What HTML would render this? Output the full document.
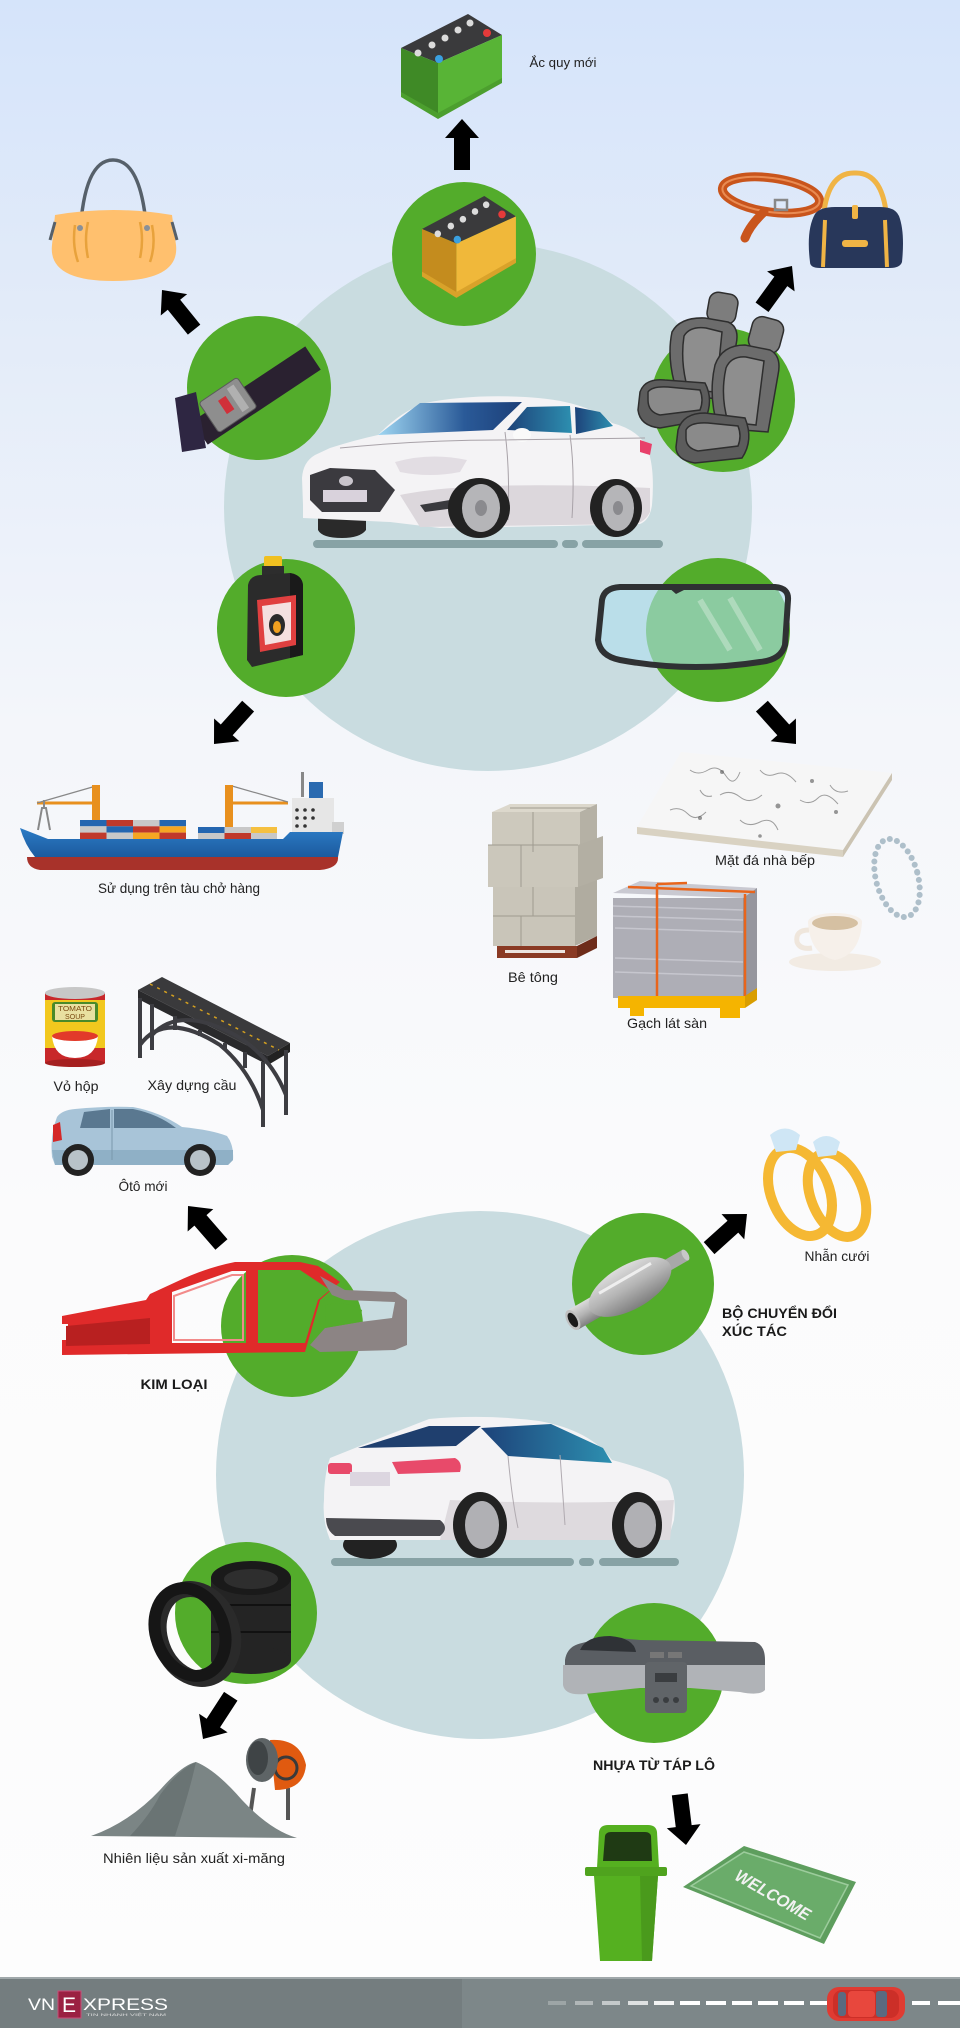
<!DOCTYPE html>
<html><head><meta charset="utf-8"><style>
html,body{margin:0;padding:0;width:960px;height:2028px;overflow:hidden;background:#fff}
svg{display:block}
text{font-family:"Liberation Sans","Noto Sans CJK SC",sans-serif;fill:#222;font-size:14px}
.b{font-weight:bold;fill:#1a1a1a}
</style></head><body>
<svg width="960" height="2028" viewBox="0 0 960 2028" xmlns="http://www.w3.org/2000/svg">
<defs>
<linearGradient id="bg" x1="0" y1="0" x2="0" y2="1">
<stop offset="0" stop-color="#d5e4fa"/>
<stop offset="0.15" stop-color="#e2ebf9"/>
<stop offset="0.36" stop-color="#f4f6fa"/>
<stop offset="0.6" stop-color="#fbfbfc"/>
<stop offset="1" stop-color="#fdfdfd"/>
</linearGradient>
<linearGradient id="wsh" x1="0" y1="0" x2="1" y2="0">
<stop offset="0" stop-color="#9fd6f2"/><stop offset="0.6" stop-color="#2a5a98"/><stop offset="1" stop-color="#1c3f78"/>
</linearGradient>
<linearGradient id="sidew" x1="0" y1="0" x2="1" y2="0">
<stop offset="0" stop-color="#1d4279"/><stop offset="1" stop-color="#2d8fb0"/>
</linearGradient>
<linearGradient id="hull" x1="0" y1="0" x2="0" y2="1">
<stop offset="0" stop-color="#2c7cc6"/><stop offset="1" stop-color="#1c5a9e"/>
</linearGradient>
<linearGradient id="conv" x1="0" y1="0" x2="0" y2="1">
<stop offset="0" stop-color="#dcdcdc"/><stop offset="0.5" stop-color="#b4b4b4"/><stop offset="1" stop-color="#7e7e7e"/>
</linearGradient>
<path id="arr" d="M0,0 L17,19 L8,19 L8,51 L-8,51 L-8,19 L-17,19 Z" fill="#000"/>
</defs>

<rect x="0" y="0" width="960" height="2028" fill="url(#bg)"/>

<!-- big circles -->
<circle cx="488" cy="507" r="264" fill="#c9dce0"/>
<circle cx="480" cy="1475" r="264" fill="#c9dce0"/>

<!-- green circles -->
<g fill="#53ac2b">
<circle cx="464" cy="254" r="72"/>
<circle cx="259" cy="388" r="72"/>
<circle cx="723" cy="400" r="72"/>
<circle cx="286" cy="628" r="69"/>
<circle cx="718" cy="630" r="72"/>
<circle cx="292" cy="1326" r="71"/>
<circle cx="643" cy="1284" r="71"/>
<circle cx="246" cy="1613" r="71"/>
<circle cx="654" cy="1673" r="70"/>
</g>

<!-- arrows -->
<use href="#arr" transform="translate(462,119)"/>
<use href="#arr" transform="translate(162,290) rotate(-39)"/>
<use href="#arr" transform="translate(792,266) rotate(36)"/>
<use href="#arr" transform="translate(214,744) rotate(-138)"/>
<use href="#arr" transform="translate(796,744) rotate(138)"/>
<use href="#arr" transform="translate(188,1206) rotate(-41)"/>
<use href="#arr" transform="translate(747,1214) rotate(48)"/>
<use href="#arr" transform="translate(203,1739) rotate(-147)"/>
<use href="#arr" transform="translate(686,1845) rotate(173)"/>

<!-- new green battery -->
<g transform="translate(401,14)">
<polygon points="0,34 67,0 101,21 37,49" fill="#3a3a3c"/>
<polygon points="0,34 37,49 37,104 0,81" fill="#3f8a26"/>
<polygon points="37,49 101,21 101,68 37,104" fill="#58b436"/>
<polygon points="0,78 37,99 101,64 101,69 37,105 0,83" fill="#4c9f2e"/>
<g fill="#dcdcdc"><circle cx="17" cy="39" r="3.5"/><circle cx="31" cy="31" r="3.5"/><circle cx="44" cy="24" r="3.5"/><circle cx="57" cy="16" r="3.5"/><circle cx="69" cy="9" r="3.5"/></g>
<circle cx="86" cy="19" r="4" fill="#e53a3a"/><circle cx="38" cy="45" r="4" fill="#3aa0e0"/>
</g>
<text x="563" y="67" text-anchor="middle" textLength="67" lengthAdjust="spacingAndGlyphs" style="font-size:13px">Ắc quy mới</text>

<!-- yellow battery -->
<g transform="translate(422,196) scale(0.93,0.97)">
<polygon points="0,34 67,0 101,21 37,49" fill="#3a3a3c"/>
<polygon points="0,34 37,49 37,104 0,81" fill="#c48c1e"/>
<polygon points="37,49 101,21 101,68 37,104" fill="#f0b83a"/>
<polygon points="0,78 37,99 101,64 101,69 37,105 0,83" fill="#d9a22a"/>
<g fill="#dcdcdc"><circle cx="17" cy="39" r="3.5"/><circle cx="31" cy="31" r="3.5"/><circle cx="44" cy="24" r="3.5"/><circle cx="57" cy="16" r="3.5"/><circle cx="69" cy="9" r="3.5"/></g>
<circle cx="86" cy="19" r="4" fill="#e53a3a"/><circle cx="38" cy="45" r="4" fill="#3aa0e0"/>
</g>

<!-- orange handbag -->
<g>
<path d="M80,235 Q84,160 113,160 Q142,160 147,235" stroke="#56606a" stroke-width="3.5" fill="none"/>
<path d="M55,215 Q113,205 172,215 L176,245 Q180,281 113,281 Q48,281 52,245 Z" fill="#ffc06e"/>
<path d="M75,225 Q72,245 78,262 M88,222 Q84,240 88,258 M140,222 Q144,240 140,258 M152,225 Q156,245 150,262" stroke="#e8a23c" stroke-width="2.5" fill="none"/>
<path d="M55,222 L50,240 M172,222 L177,240" stroke="#56606a" stroke-width="3"/>
<circle cx="80" cy="228" r="3" fill="#8a9098"/><circle cx="147" cy="228" r="3" fill="#8a9098"/>
</g>

<!-- seat belt -->
<g>
<line x1="200" y1="433" x2="313" y2="358" stroke="#2a2130" stroke-width="28"/>
<polygon points="175,398 196,392 206,448 182,452" fill="#2e2642"/>
<g transform="translate(228,405) rotate(-34)">
<rect x="-23" y="-18" width="46" height="36" rx="3" fill="#8e8e8e" stroke="#5a5a5a"/>
<rect x="-6" y="-9" width="9" height="16" fill="#d0303a"/>
<rect x="8" y="-14" width="8" height="28" fill="#b0b0b0"/>
</g>
</g>

<!-- seats -->
<g stroke="#2e2e2e" stroke-width="1.5">
<rect x="708" y="293" width="29" height="30" rx="9" fill="#7d7d7d" transform="rotate(10 722 308)"/>
<path d="M672,332 Q680,317 705,318 L728,322 Q740,327 736,345 L730,400 L678,395 Q666,360 672,332 Z" fill="#6c6c6c"/>
<path d="M684,336 Q690,326 706,328 L722,332 L716,392 L688,390 Q680,362 684,336 Z" fill="#8e8e8e"/>
<path d="M640,392 Q645,378 665,380 L705,383 Q714,400 705,420 L660,428 Q640,426 638,410 Z" fill="#5c5c5c"/>
<path d="M648,392 Q652,386 668,387 L700,390 Q704,400 700,410 L660,415 Q648,412 648,400 Z" fill="#8a8a8a"/>
<rect x="750" y="318" width="32" height="34" rx="10" fill="#7d7d7d" transform="rotate(15 766 335)"/>
<path d="M715,365 Q722,345 745,345 L770,350 Q782,356 778,375 L768,432 L718,428 Q708,395 715,365 Z" fill="#6c6c6c"/>
<path d="M726,368 Q731,356 746,357 L764,361 L756,425 L728,422 Q720,395 726,368 Z" fill="#8e8e8e"/>
<path d="M678,430 Q683,413 705,413 L745,418 Q754,440 742,458 L695,463 Q676,460 676,447 Z" fill="#5c5c5c"/>
<path d="M686,430 Q690,422 708,423 L738,426 Q742,436 738,446 L698,451 Q686,448 686,438 Z" fill="#8a8a8a"/>
</g>

<!-- belt + navy bag -->
<g>
<ellipse cx="771" cy="195" rx="49" ry="17" transform="rotate(8 771 195)" stroke="#c9551c" stroke-width="9" fill="none"/>
<ellipse cx="771" cy="195" rx="49" ry="17" transform="rotate(8 771 195)" stroke="#e98b52" stroke-width="2" fill="none"/>
<path d="M764,212 Q750,225 745,238" stroke="#c9551c" stroke-width="9" stroke-linecap="round" fill="none"/>
<rect x="775" y="200" width="12" height="10" fill="none" stroke="#888" stroke-width="2.5"/>
<path d="M823,222 Q826,172 855,173 Q884,172 887,222" stroke="#f0b445" stroke-width="5" fill="none"/>
<path d="M810,262 Q806,230 815,214 Q820,207 835,207 L880,207 Q895,207 899,216 Q905,232 902,262 Q900,268 890,268 L820,268 Q810,268 810,262 Z" fill="#28375a"/>
<line x1="825" y1="220" x2="823" y2="267" stroke="#f0b445" stroke-width="4"/>
<line x1="885" y1="220" x2="887" y2="267" stroke="#f0b445" stroke-width="4"/>
<rect x="852" y="205" width="6" height="14" rx="2" fill="#f0b445"/>
<rect x="842" y="240" width="26" height="7" rx="3" fill="#f0b445"/>
</g>

<!-- front car -->
<g>
<rect x="313" y="540" width="245" height="8" rx="4" fill="#87a2a5"/>
<rect x="562" y="540" width="16" height="8" rx="4" fill="#87a2a5"/>
<rect x="582" y="540" width="81" height="8" rx="4" fill="#87a2a5"/>
<path d="M318,512 L366,512 L366,530 Q360,538 342,538 Q322,538 318,530 Z" fill="#2a2a2a"/>
<path d="M303,505 L302,478 Q303,462 315,455 L330,448 Q355,440 378,435 Q400,412 425,403 Q470,394 525,397 Q585,400 612,423 Q640,430 648,450 Q655,470 652,505 Q650,520 640,524 L560,526 L440,528 L390,522 L303,518 Z" fill="#f4f3f5"/>
<path d="M400,495 Q470,480 650,488 L650,512 Q645,522 635,524 L420,527 Z" fill="#dcd7dc"/>
<polygon points="378,435 420,403 522,402 493,430" fill="url(#wsh)"/>
<polygon points="507,430 527,407 570,406 572,433" fill="url(#sidew)"/>
<polygon points="575,407 600,412 613,426 576,434" fill="url(#sidew)"/>
<ellipse cx="522" cy="435" rx="9" ry="7" fill="#fafafa"/>
<path d="M310,475 L330,468 L375,470 L395,490 L380,512 L322,512 L310,500 Z" fill="#3b3a3f"/>
<rect x="323" y="490" width="44" height="12" fill="#d9d2dc"/>
<ellipse cx="346" cy="481" rx="7" ry="5" fill="#c9c5cc"/>
<path d="M395,462 Q430,452 467,460 L460,472 Q430,478 400,472 Z" fill="#e2dde3"/>
<path d="M420,505 L450,500 L455,508 L425,512 Z" fill="#3a3a3e"/>
<path d="M505,432 Q510,470 508,520 M570,435 Q575,470 572,518 M340,448 Q420,440 500,440 L645,438" stroke="#a8a2a8" stroke-width="1" fill="none"/>
<path d="M640,440 L652,444 L650,455 L640,452 Z" fill="#e8406a"/>
<ellipse cx="479" cy="508" rx="31" ry="30" fill="#222"/>
<ellipse cx="481" cy="508" rx="19" ry="24" fill="#b5b5b8"/>
<ellipse cx="481" cy="508" rx="6" ry="8" fill="#8a8a8e"/>
<ellipse cx="616" cy="508" rx="26" ry="29" fill="#222"/>
<ellipse cx="618" cy="508" rx="16" ry="23" fill="#b5b5b8"/>
<ellipse cx="618" cy="508" rx="5" ry="7" fill="#8a8a8e"/>
</g>

<!-- oil bottle -->
<g>
<rect x="264" y="556" width="18" height="12" rx="2" fill="#f0c020"/>
<rect x="262" y="566" width="22" height="10" fill="#2d2d2d"/>
<path d="M248,585 Q250,575 262,575 L290,573 Q302,575 303,585 L303,655 L252,667 L247,660 Z" fill="#2b2b2b"/>
<path d="M290,573 Q302,575 303,585 L303,655 L290,658 Z" fill="#1a1a1a"/>
<polygon points="257,600 296,595 296,645 260,652" fill="#e04040"/>
<polygon points="262,606 291,602 291,640 265,645" fill="#f4e0e0"/>
<ellipse cx="277" cy="625" rx="8" ry="11" fill="#2b2b2b"/>
<ellipse cx="277" cy="627" rx="4" ry="6" fill="#f0a020"/>
</g>

<!-- windshield -->
<path d="M602,600 Q604,588 620,587 L775,587 Q789,588 788,600 L785,645 Q781,660 760,662 Q690,673 620,660 Q600,656 598,640 Z" fill="#b0e0ee" fill-opacity="0.6" stroke="#2f3133" stroke-width="6"/>
<path d="M668,587 L676,594 L690,587 Z" fill="#2f3133"/>
<path d="M700,600 L730,650 M730,598 L760,650" stroke="#ffffff" stroke-opacity="0.3" stroke-width="6"/>

<!-- ship -->
<g>
<path d="M37,803 L98,803 M232,803 L288,803" stroke="#e8901e" stroke-width="3"/>
<path d="M37,803 L96,786 M232,786 L288,802" stroke="#888" stroke-width="1.2"/>
<rect x="92" y="785" width="8" height="36" fill="#e8901e"/>
<rect x="225" y="785" width="8" height="43" fill="#e8901e"/>
<path d="M38,830 L42,808 L46,808 L50,830 M44,808 L44,800" stroke="#888" stroke-width="2" fill="none"/>
<rect x="301" y="772" width="3" height="25" fill="#888"/>
<rect x="309" y="782" width="14" height="18" fill="#2a6ab0"/>
<rect x="292" y="798" width="42" height="36" fill="#e6e6e6"/>
<rect x="332" y="822" width="12" height="12" fill="#d0d0d0"/>
<g fill="#333"><circle cx="297" cy="810" r="1.8"/><circle cx="305" cy="810" r="1.8"/><circle cx="313" cy="810" r="1.8"/><circle cx="297" cy="818" r="1.8"/><circle cx="305" cy="818" r="1.8"/><circle cx="313" cy="818" r="1.8"/><circle cx="297" cy="826" r="1.8"/><circle cx="305" cy="826" r="1.8"/></g>
<g>
<rect x="80" y="820" width="26.5" height="6.3" fill="#2466b0"/><rect x="106.5" y="820" width="26.5" height="6.3" fill="#c0392b"/><rect x="133" y="820" width="26.5" height="6.3" fill="#c8c8c8"/><rect x="159.5" y="820" width="26.5" height="6.3" fill="#2466b0"/>
<rect x="80" y="826.3" width="26.5" height="6.3" fill="#c8c8c8"/><rect x="106.5" y="826.3" width="26.5" height="6.3" fill="#2466b0"/><rect x="133" y="826.3" width="26.5" height="6.3" fill="#c0392b"/><rect x="159.5" y="826.3" width="26.5" height="6.3" fill="#f5a623"/>
<rect x="80" y="832.6" width="26.5" height="6.4" fill="#c0392b"/><rect x="106.5" y="832.6" width="26.5" height="6.4" fill="#c8c8c8"/><rect x="133" y="832.6" width="26.5" height="6.4" fill="#f5a623"/><rect x="159.5" y="832.6" width="26.5" height="6.4" fill="#c0392b"/>
<rect x="198" y="827" width="26.5" height="6" fill="#2466b0"/><rect x="224.5" y="827" width="26.5" height="6" fill="#c8c8c8"/><rect x="251" y="827" width="26" height="6" fill="#f5c040"/>
<rect x="198" y="833" width="26.5" height="6" fill="#c8c8c8"/><rect x="224.5" y="833" width="26.5" height="6" fill="#c0392b"/><rect x="251" y="833" width="26" height="6" fill="#c8c8c8"/>
</g>
<path d="M20,828 L48,839 L283,839 L290,832 L343,832 L338,857 L35,857 Q25,845 20,828 Z" fill="url(#hull)"/>
<path d="M27,857 L338,857 Q339,868 320,870 L40,870 Q27,868 27,857 Z" fill="#a8322a"/>
</g>
<text x="179" y="893" text-anchor="middle" textLength="162" lengthAdjust="spacingAndGlyphs">Sử dụng trên tàu chở hàng</text>

<!-- marble -->
<g>
<polygon points="637,827 681,752 892,773 843,850" fill="#f6f6f6"/>
<polygon points="637,827 843,850 843,857 637,834" fill="#d9d2c2"/>
<polygon points="843,850 892,773 892,780 843,857" fill="#cbc3b2"/>
<g stroke="#7a7a7a" stroke-width="1" fill="none" opacity="0.7">
<path d="M690,770 q8,6 18,0 t18,6 t14,-4"/><path d="M720,795 q10,-6 20,2 t22,-2"/><path d="M760,770 q6,8 16,4 t20,8"/><path d="M800,800 q10,6 18,-2 t20,6"/><path d="M670,810 q10,-4 18,4 t18,-2"/><path d="M740,820 q8,8 20,2 t18,8"/><path d="M830,785 q6,10 18,6"/><path d="M700,790 q4,8 12,6"/>
</g>
<g fill="#555" opacity="0.6"><circle cx="722" cy="772" r="2"/><circle cx="778" cy="806" r="2.5"/><circle cx="812" cy="781" r="2"/><circle cx="700" cy="818" r="2"/><circle cx="760" cy="836" r="1.8"/><circle cx="836" cy="812" r="2"/></g>
</g>
<text x="765" y="865" text-anchor="middle" textLength="100" lengthAdjust="spacingAndGlyphs">Mặt đá nhà bếp</text>

<!-- concrete blocks -->
<g>
<polygon points="492,812 510,804 597,804 580,812" fill="#dcd8cc"/>
<rect x="492" y="812" width="88" height="40" fill="#cdc9bd"/>
<polygon points="580,812 597,804 597,845 580,852" fill="#b5b1a5"/>
<rect x="493" y="880" width="82" height="66" fill="#c9c5b9"/>
<polygon points="575,880 597,872 597,936 575,946" fill="#b0aca0"/>
<rect x="488" y="845" width="90" height="42" fill="#cbc7bb"/>
<polygon points="578,845 603,836 603,878 578,887" fill="#b3afa3"/>
<g stroke="#9f9b90" stroke-width="1"><line x1="533" y1="812" x2="533" y2="852"/><line x1="521" y1="845" x2="521" y2="887"/><line x1="533" y1="887" x2="533" y2="916"/><line x1="493" y1="916" x2="575" y2="916"/><line x1="521" y1="916" x2="521" y2="946"/><line x1="488" y1="845" x2="578" y2="845"/><line x1="510" y1="808" x2="590" y2="808"/></g>
<rect x="497" y="946" width="80" height="12" fill="#8a3a24"/>
<polygon points="577,946 597,936 597,948 577,958" fill="#6e2c1a"/>
<rect x="505" y="950" width="60" height="3" fill="#ece4df"/>
</g>
<text x="533" y="982" text-anchor="middle" textLength="50" lengthAdjust="spacingAndGlyphs">Bê tông</text>

<!-- tiles -->
<g>
<polygon points="613,893 640,881 757,888 743,898" fill="#c9c9d1"/>
<rect x="613" y="898" width="130" height="100" fill="#aeaeb6"/>
<polygon points="743,898 757,888 757,990 743,1000" fill="#96969e"/>
<g stroke="#c6c6ce" stroke-width="1.5"><line x1="613" y1="906" x2="743" y2="910"/><line x1="613" y1="916" x2="743" y2="920"/><line x1="615" y1="928" x2="743" y2="932"/><line x1="615" y1="958" x2="743" y2="962"/><line x1="615" y1="972" x2="743" y2="976"/></g>
<g stroke="#e8651c" stroke-width="2.5" fill="none"><line x1="657" y1="884" x2="657" y2="998"/><line x1="745" y1="894" x2="745" y2="996"/><line x1="628" y1="887" x2="755" y2="892"/><line x1="657" y1="884" x2="687" y2="883"/></g>
<rect x="618" y="996" width="127" height="12" fill="#f5b400"/>
<polygon points="745,996 757,988 757,1000 745,1008" fill="#d99e00"/>
<rect x="630" y="1008" width="14" height="8" fill="#f5b400"/><rect x="720" y="1008" width="20" height="10" fill="#f5b400"/>
</g>
<text x="667" y="1028" text-anchor="middle" textLength="80" lengthAdjust="spacingAndGlyphs">Gạch lát sàn</text>

<!-- necklace & cup -->
<ellipse cx="897" cy="878" rx="21" ry="40" transform="rotate(-15 897 878)" stroke="#aebfca" stroke-width="6" stroke-dasharray="0.01 7.5" stroke-linecap="round" fill="none"/>
<g>
<ellipse cx="835" cy="962" rx="46" ry="9" fill="#f2ebe3"/>
<path d="M809,930 Q795,930 797,942 Q800,950 812,948" stroke="#efe6dc" stroke-width="5" fill="none"/>
<path d="M808,922 L862,922 Q860,955 835,960 Q810,955 808,922 Z" fill="#f6f0ea"/>
<ellipse cx="835" cy="922" rx="27" ry="9" fill="#f6f0ea"/>
<ellipse cx="835" cy="923" rx="23" ry="7" fill="#d5c0a2"/>
</g>

<!-- tomato can -->
<g>
<rect x="45" y="993" width="60" height="70" fill="#c8282a"/>
<rect x="45" y="1000" width="60" height="48" fill="#f2c81e"/>
<ellipse cx="75" cy="993" rx="30" ry="6" fill="#c7c7c7"/>
<ellipse cx="75" cy="1063" rx="30" ry="4" fill="#a52020"/>
<rect x="52" y="1002" width="46" height="20" rx="3" fill="#4a8a2a"/>
<rect x="55" y="1004" width="40" height="16" fill="#e8e0a0"/>
<text x="75" y="1011" text-anchor="middle" style="font-size:7px;fill:#7a4a10" textLength="34" lengthAdjust="spacingAndGlyphs">TOMATO</text>
<text x="75" y="1019" text-anchor="middle" style="font-size:7px;fill:#7a4a10" textLength="20" lengthAdjust="spacingAndGlyphs">SOUP</text>
<path d="M52,1036 L98,1036 Q96,1058 75,1058 Q54,1058 52,1036 Z" fill="#ffffff"/>
<ellipse cx="75" cy="1036" rx="23" ry="5" fill="#e23a2a"/>
</g>
<text x="76" y="1091" text-anchor="middle" textLength="45" lengthAdjust="spacingAndGlyphs">Vỏ hộp</text>

<!-- bridge -->
<g>
<polygon points="138,990 162,977 290,1043 268,1056" fill="#3a3a3c"/>
<polygon points="138,990 268,1056 268,1065 138,999" fill="#2a2a2c"/>
<polygon points="268,1056 290,1043 290,1052 268,1065" fill="#222"/>
<line x1="150" y1="984" x2="279" y2="1050" stroke="#d4a020" stroke-width="1.5" stroke-dasharray="3 5"/>
<g stroke="#3d3d42" stroke-width="4" fill="none">
<line x1="140" y1="998" x2="140" y2="1058"/><line x1="152" y1="1004" x2="152" y2="1050"/>
<line x1="263" y1="1062" x2="263" y2="1127"/><line x1="286" y1="1050" x2="286" y2="1115"/>
<path d="M140,1045 Q165,1010 220,1045 Q250,1070 263,1110"/>
<path d="M152,1035 Q180,1005 235,1035 Q270,1055 286,1095"/>
<line x1="175" y1="1016" x2="175" y2="1030"/><line x1="200" y1="1030" x2="200" y2="1036"/><line x1="225" y1="1043" x2="225" y2="1050"/><line x1="245" y1="1052" x2="245" y2="1068"/>
</g>
</g>
<text x="192" y="1090" text-anchor="middle" textLength="89" lengthAdjust="spacingAndGlyphs">Xây dựng cầu</text>

<!-- blue hatchback -->
<g>
<path d="M52,1157 Q50,1135 57,1117 Q62,1110 75,1109 Q105,1106 133,1107 Q160,1112 182,1127 Q212,1130 227,1136 Q234,1145 233,1160 L228,1165 L55,1165 Z" fill="#a8c4d8"/>
<path d="M52,1150 L233,1150 L233,1160 L228,1165 L55,1165 Z" fill="#8fb0c6"/>
<path d="M84,1112 L110,1109 L110,1128 L80,1128 Z" fill="#5a7890"/>
<path d="M114,1109 L133,1109 Q158,1114 176,1128 L114,1128 Z" fill="#5a7890"/>
<path d="M53,1125 L60,1122 L62,1140 L53,1142 Z" fill="#d42828"/>
<line x1="112" y1="1110" x2="112" y2="1160" stroke="#7a98ac" stroke-width="1"/>
<circle cx="78" cy="1160" r="16" fill="#222"/><circle cx="78" cy="1160" r="10" fill="#b8c2c8"/>
<circle cx="200" cy="1160" r="16" fill="#222"/><circle cx="200" cy="1160" r="10" fill="#b8c2c8"/>
</g>
<text x="143" y="1191" text-anchor="middle" textLength="49" lengthAdjust="spacingAndGlyphs">Ôtô mới</text>

<!-- red frame -->
<g>
<path fill-rule="evenodd" fill="#e02a2a" d="M62,1316 L146,1300 L150,1294 L176,1282 Q205,1268 235,1262 L300,1262 L318,1266 L340,1282 L320,1300 L305,1352 L62,1355 L62,1340 L68,1340 L68,1324 L62,1324 Z M172,1292 L232,1271 L246,1271 L246,1343 L172,1343 Z M258,1270 L300,1270 L330,1290 L318,1300 L305,1343 L258,1343 Z"/>
<path d="M66,1326 L150,1318 L150,1344 L66,1346 Z" fill="#b82020"/>
<path d="M174,1296 L232,1275 L243,1275 L243,1340 L174,1340 Z" fill="none" stroke="#f28a8a" stroke-width="2"/>
<path d="M320,1276 L345,1290 L395,1292 L407,1300 L407,1345 L395,1350 L320,1352 L310,1345 L325,1328 L360,1322 L392,1318 L395,1302 L345,1300 L332,1295 Z" fill="#8c8484"/>
<path d="M326,1305 Q345,1300 362,1310 L360,1322 L325,1328 Z" fill="#53ac2b"/>
</g>
<text x="174" y="1389" text-anchor="middle" class="b" textLength="67" lengthAdjust="spacingAndGlyphs">KIM LOẠI</text>

<!-- catalytic converter -->
<g transform="translate(630,1287) rotate(-30)">
<rect x="38" y="-6" width="26" height="12" fill="#a8a8a8"/>
<ellipse cx="64" cy="0" rx="3" ry="6" fill="#c8c8c8"/>
<rect x="-66" y="-11" width="30" height="22" fill="url(#conv)"/>
<ellipse cx="0" cy="0" rx="46" ry="22" fill="url(#conv)"/>
<line x1="-30" y1="-10" x2="30" y2="-10" stroke="#eee" stroke-width="3"/>
<ellipse cx="-66" cy="0" rx="6" ry="11" fill="#c0c0c0"/>
<ellipse cx="-66" cy="0" rx="4" ry="8" fill="#1a1a1a"/>
</g>

<!-- rings -->
<g fill="none" stroke="#f5b833" stroke-width="10">
<ellipse cx="837" cy="1195" rx="26" ry="44" transform="rotate(-22 837 1195)"/>
<ellipse cx="800" cy="1192" rx="29" ry="46" transform="rotate(-22 800 1192)"/>
</g>
<path d="M770,1135 Q785,1122 800,1135 L796,1150 L776,1152 Z" fill="#cfe6f5"/>
<path d="M813,1142 Q826,1130 840,1142 L836,1155 L818,1157 Z" fill="#cfe6f5"/>
<text x="837" y="1261" text-anchor="middle" textLength="65" lengthAdjust="spacingAndGlyphs">Nhẫn cưới</text>
<text x="722" y="1318" class="b" textLength="115" lengthAdjust="spacingAndGlyphs">BỘ CHUYỂN ĐỔI</text>
<text x="722" y="1336" class="b" textLength="65" lengthAdjust="spacingAndGlyphs">XÚC TÁC</text>

<!-- rear car -->
<g>
<rect x="331" y="1558" width="243" height="8" rx="4" fill="#87a2a5"/>
<rect x="579" y="1558" width="15" height="8" rx="4" fill="#87a2a5"/>
<rect x="599" y="1558" width="80" height="8" rx="4" fill="#87a2a5"/>
<ellipse cx="370" cy="1545" rx="27" ry="14" fill="#222"/>
<path d="M330,1458 L360,1446 L429,1419 Q485,1414 539,1421 Q590,1430 612,1460 Q650,1470 668,1480 Q677,1495 674,1520 L668,1540 L330,1540 Q322,1520 324,1500 Q324,1475 330,1458 Z" fill="#f4f3f5"/>
<path d="M450,1500 Q560,1505 674,1500 L670,1540 L440,1540 Z" fill="#dedade"/>
<polygon points="358,1448 429,1426 481,1426 456,1446" fill="#1f3f6e"/>
<polygon points="481,1428 551,1424 603,1448 612,1463 508,1456" fill="url(#sidew)"/>
<path d="M326,1518 L440,1520 Q450,1528 440,1536 L335,1536 Q326,1530 326,1518 Z" fill="#4a4a4f"/>
<rect x="328" y="1463" width="24" height="11" rx="3" fill="#e84a6a"/>
<path d="M392,1462 L455,1458 Q463,1462 460,1472 L398,1474 Z" fill="#e84a6a"/>
<rect x="350" y="1472" width="40" height="14" fill="#dcd6e0"/>
<path d="M508,1456 Q512,1500 518,1528 M560,1455 Q563,1495 565,1525" stroke="#b0aab0" stroke-width="1" fill="none"/>
<ellipse cx="480" cy="1525" rx="27" ry="33" fill="#222"/>
<ellipse cx="482" cy="1525" rx="17" ry="24" fill="#b0b0b4"/>
<ellipse cx="637" cy="1525" rx="25" ry="33" fill="#222"/>
<ellipse cx="640" cy="1525" rx="16" ry="23" fill="#b0b0b4"/>
</g>

<!-- tires -->
<g>
<rect x="211" y="1578" width="80" height="82" fill="#242424"/>
<ellipse cx="251" cy="1660" rx="40" ry="14" fill="#242424"/>
<g stroke="#111" stroke-width="2"><line x1="211" y1="1605" x2="291" y2="1605"/><line x1="211" y1="1632" x2="291" y2="1632"/></g>
<ellipse cx="251" cy="1578" rx="40" ry="17" fill="#1a1a1a"/>
<ellipse cx="251" cy="1579" rx="27" ry="10" fill="#2e2e2e"/>
<ellipse cx="196" cy="1634" rx="36" ry="46" transform="rotate(-20 196 1634)" fill="none" stroke="#2a2a2a" stroke-width="16"/>
<ellipse cx="190" cy="1632" rx="34" ry="45" transform="rotate(-20 190 1632)" fill="none" stroke="#161616" stroke-width="12"/>
</g>

<!-- cement -->
<g>
<rect x="252" y="1788" width="4" height="30" fill="#555" transform="rotate(8 254 1788)"/>
<rect x="286" y="1788" width="4" height="32" fill="#555"/>
<path d="M270,1740 Q300,1738 306,1765 Q304,1790 275,1790 Z" fill="#e05a10"/>
<circle cx="286" cy="1768" r="11" fill="none" stroke="#3a3a3a" stroke-width="3"/>
<ellipse cx="262" cy="1760" rx="16" ry="22" fill="#5e6466"/>
<ellipse cx="258" cy="1758" rx="10" ry="17" fill="#3f4446"/>
<path d="M91,1836 Q130,1822 160,1790 Q182,1765 196,1762 Q216,1770 242,1800 Q270,1830 297,1838 Z" fill="#7b8585"/>
<path d="M160,1795 Q178,1770 196,1762 Q190,1790 175,1836 L130,1836 Q150,1815 160,1795 Z" fill="#6a7474"/>
</g>
<text x="194" y="1863" text-anchor="middle" textLength="182" lengthAdjust="spacingAndGlyphs">Nhiên liệu sản xuất xi-măng</text>

<!-- dashboard -->
<g>
<path d="M565,1660 Q567,1646 582,1643 Q605,1636 640,1640 L755,1642 Q765,1645 765,1660 L765,1670 L565,1670 Z" fill="#5a5e63"/>
<path d="M580,1650 Q586,1636 610,1636 Q634,1638 636,1652 Z" fill="#2f3236"/>
<path d="M563,1665 L765,1665 L765,1690 Q760,1696 740,1692 L690,1688 L640,1688 L585,1694 Q565,1696 563,1685 Z" fill="#b0b3b7"/>
<rect x="645" y="1662" width="42" height="51" rx="4" fill="#606468"/>
<rect x="655" y="1673" width="22" height="9" fill="#3a3d40"/>
<circle cx="656" cy="1700" r="3" fill="#3a3d40"/><circle cx="666" cy="1700" r="3" fill="#3a3d40"/><circle cx="676" cy="1700" r="3" fill="#3a3d40"/>
<rect x="650" y="1652" width="14" height="6" fill="#777"/><rect x="668" y="1652" width="14" height="6" fill="#777"/>
</g>
<text x="654" y="1770" text-anchor="middle" class="b" textLength="122" lengthAdjust="spacingAndGlyphs">NHỰA TỪ TÁP LÔ</text>

<!-- bin -->
<g>
<path d="M594,1876 L658,1876 L652,1961 L600,1961 Z" fill="#55b020"/>
<path d="M640,1876 L658,1876 L652,1961 L642,1961 Z" fill="#4a9a1c"/>
<path d="M597,1868 L599,1832 Q600,1825 608,1825 L648,1825 Q656,1825 657,1832 L659,1868 Z" fill="#55b020"/>
<path d="M603,1861 L605,1836 Q606,1832 611,1832 L645,1832 Q650,1832 651,1836 L652,1861 Z" fill="#1f3a14"/>
<rect x="585" y="1867" width="82" height="9" rx="2" fill="#4fa31e"/>
</g>

<!-- welcome mat -->
<g>
<polygon points="744,1846 856,1882 824,1944 683,1887" fill="#5e9e5e"/>
<polygon points="744,1852 848,1885 820,1938 691,1886" fill="#6aac6a" stroke="#9ccc9c" stroke-width="1.5"/>
<text x="0" y="0" transform="translate(770,1900) rotate(30)" text-anchor="middle" style="font-size:17px;font-weight:bold;font-style:italic;fill:#f2f2f2" textLength="84" lengthAdjust="spacingAndGlyphs">WELCOME</text>
</g>

<!-- footer -->
<rect x="0" y="1977" width="960" height="51" fill="#747d7f"/>
<rect x="462" y="1977" width="498" height="51" fill="#7d8789"/>
<rect x="0" y="1977" width="960" height="2" fill="#a0a8aa"/>
<g fill="#ffffff">
<rect x="548" y="2001" width="18" height="4" opacity="0.25"/>
<rect x="575" y="2001" width="18" height="4" opacity="0.4"/>
<rect x="602" y="2001" width="18" height="4" opacity="0.55"/>
<rect x="628" y="2001" width="20" height="4" opacity="0.75"/>
<rect x="654" y="2001" width="20" height="4" opacity="0.9"/>
<rect x="680" y="2001" width="20" height="4"/>
<rect x="706" y="2001" width="20" height="4"/>
<rect x="732" y="2001" width="20" height="4"/>
<rect x="758" y="2001" width="20" height="4"/>
<rect x="784" y="2001" width="20" height="4"/>
<rect x="810" y="2001" width="20" height="4"/>
<rect x="912" y="2001" width="18" height="4"/>
<rect x="938" y="2001" width="22" height="4"/>
</g>
<g>
<rect x="827" y="1987" width="78" height="34" rx="12" fill="#e03b32"/>
<rect x="833" y="1990" width="66" height="28" rx="9" fill="#cc2f28"/>
<rect x="876" y="1991" width="11" height="26" rx="3" fill="#5a6a80"/>
<rect x="838" y="1992" width="8" height="24" rx="3" fill="#5a6a80"/>
<rect x="848" y="1991" width="27" height="26" rx="4" fill="#e8473d"/>
</g>
<text x="28" y="2010" style="font-size:17px;fill:#fff" textLength="27" lengthAdjust="spacingAndGlyphs">VN</text>
<rect x="58" y="1991" width="23" height="27" fill="#9b2142" stroke="#c8507a" stroke-width="1"/>
<text x="62" y="2012" style="font-size:21px;fill:#fff">E</text>
<text x="83" y="2010" style="font-size:17px;fill:#fff" textLength="85" lengthAdjust="spacingAndGlyphs">XPRESS</text>
<text x="86" y="2016" style="font-size:4px;fill:#dddddd" textLength="80" lengthAdjust="spacingAndGlyphs">TIN NHANH VIỆT NAM</text>
</svg>
</body></html>
